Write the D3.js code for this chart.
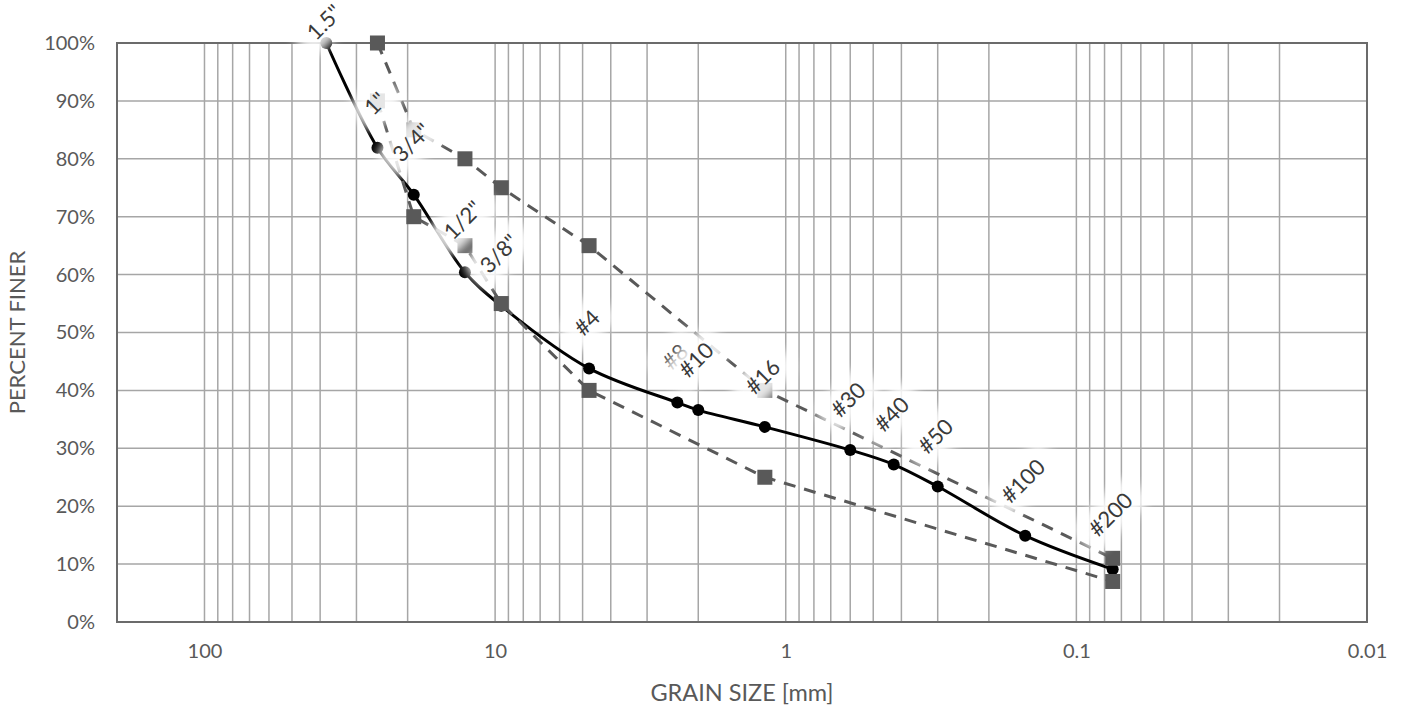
<!DOCTYPE html>
<html>
<head>
<meta charset="utf-8">
<script src="https://cdn.jsdelivr.net/npm/d3@7"></script>
<style>
  body { margin: 0; background: #fff; }
  text { font-family: Lato, "Open Sans", sans-serif; }
</style>
</head>
<body>
<svg id="chart"></svg>
<script>
// sieve analysis data
var sieveNames = ['1.5"', '1"', '3/4"', '1/2"', '3/8"', "#4", "#8", "#10", "#16", "#30", "#40", "#50", "#100", "#200"];
var sieveSizes = [38.1, 25.4, 19.05, 12.7, 9.525, 4.75, 2.36, 2.0, 1.18, 0.6, 0.425, 0.3, 0.15, 0.075];
var percentFiner = [100, 81.9, 73.8, 60.4, 54.6, 43.8, 37.9, 36.6, 33.7, 29.7, 27.2, 23.4, 14.9, 9.1];

// specification band
var specSizes = [25.4, 19.05, 12.7, 9.525, 4.75, 1.18, 0.075];
var upperSpec = [100, 85, 80, 75, 65, 40, 11];
var lowerSpec = [90, 70, 65, 55, 40, 25, 7];

var xTickValues = [100, 10, 1, 0.1, 0.01];
var yTickValues = [0, 10, 20, 30, 40, 50, 60, 70, 80, 90, 100];

var W = 1402, H = 707;
var margin = { left: 117, right: 35, top: 43, bottom: 85 };
var width = W - margin.left - margin.right,
  height = H - margin.top - margin.bottom;

var svg = d3.select("#chart").attr("width", W).attr("height", H);

var defs = svg.append("defs");
defs.append("filter")
  .attr("id", "soft")
  .attr("x", "-50%").attr("y", "-50%")
  .attr("width", "200%").attr("height", "200%")
  .append("feGaussianBlur").attr("stdDeviation", 5);

var x = d3.scaleLog().domain([200, 0.01]).range([0, width]);
var y = d3.scaleLinear().domain([0, 100]).range([height, 0]);

var g = svg.append("g").attr("transform", `translate(${margin.left},${margin.top})`);

// vertical grid (all 1-9 multiples of each decade)
var vGrid = x.ticks().filter((d) => x(d) > 0.5 && x(d) < width - 0.5);
g.append("g")
  .selectAll("line")
  .data(vGrid)
  .enter()
  .append("line")
  .attr("x1", (d) => x(d)).attr("x2", (d) => x(d))
  .attr("y1", 0).attr("y2", height)
  .style("stroke", "#a6a6a6")
  .style("stroke-width", 1.5);

// horizontal grid
g.append("g")
  .selectAll("line")
  .data(yTickValues.slice(1, -1))
  .enter()
  .append("line")
  .attr("x1", 0).attr("x2", width)
  .attr("y1", (d) => y(d)).attr("y2", (d) => y(d))
  .style("stroke", "#a6a6a6")
  .style("stroke-width", 1.5);

// plot border
g.append("rect")
  .attr("width", width).attr("height", height)
  .style("fill", "none")
  .style("stroke", "#6b6b6b")
  .style("stroke-width", 2);

// axes (labels only)
var xAxis = g.append("g")
  .attr("transform", `translate(0,${height})`)
  .call(d3.axisBottom(x).tickValues(xTickValues).tickFormat((d) => String(d)).tickSize(0).tickPadding(22));
var yAxis = g.append("g")
  .call(d3.axisLeft(y).tickValues(yTickValues).tickFormat((d) => d + "%").tickSize(0).tickPadding(22));
[xAxis, yAxis].forEach((a) => {
  a.select(".domain").remove();
  a.selectAll("text").style("font-size", "20px").style("fill", "#595959");
});

// axis titles
svg.append("text")
  .attr("x", margin.left + width / 2).attr("y", 701)
  .attr("text-anchor", "middle")
  .style("font-size", "23.5px").style("fill", "#595959")
  .text("GRAIN SIZE [mm]");
svg.append("text")
  .attr("transform", `translate(25,${margin.top + height / 2}) rotate(-90)`)
  .attr("text-anchor", "middle")
  .style("font-size", "22px").style("fill", "#595959")
  .text("PERCENT FINER");

// measured gradation
var gradation = sieveSizes.map((s, i) => ({ size: s, pct: percentFiner[i], name: sieveNames[i] }));
var smooth = d3.line()
  .x((d) => x(d.size)).y((d) => y(d.pct))
  .curve(d3.curveCatmullRom.alpha(0.5));
g.append("path")
  .datum(gradation)
  .attr("d", smooth)
  .style("fill", "none")
  .style("stroke", "#000")
  .style("stroke-width", 3);
g.selectAll(".pt")
  .data(gradation)
  .enter()
  .append("circle")
  .attr("class", "pt")
  .attr("cx", (d) => x(d.size)).attr("cy", (d) => y(d.pct))
  .attr("r", 6)
  .style("fill", "#000");

// spec limits (dashed with squares)
var straight = d3.line().x((d) => x(d.size)).y((d) => y(d.pct));
[upperSpec, lowerSpec].forEach((vals) => {
  var pts = specSizes.map((s, i) => ({ size: s, pct: vals[i] }));
  g.append("path")
    .datum(pts)
    .attr("d", straight)
    .style("fill", "none")
    .style("stroke", "#595959")
    .style("stroke-width", 3)
    .style("stroke-dasharray", "12,9");
  g.append("g")
    .selectAll("rect")
    .data(pts)
    .enter()
    .append("rect")
    .attr("x", (d) => x(d.size) - 7.5).attr("y", (d) => y(d.pct) - 7.5)
    .attr("width", 15).attr("height", 15)
    .style("fill", "#595959");
});

// sieve labels with soft white glow
var labels = g.append("g")
  .selectAll("g")
  .data(gradation)
  .enter()
  .append("g");
labels.each(function (d) {
  var lg = d3.select(this);
  var glow = lg.append("rect");
  var t = lg.append("text")
    .attr("text-anchor", "middle")
    .attr("dy", "0.35em")
    .style("font-size", "22px")
    .style("fill", "#3a3a3a")
    .text(d.name);
  var w = t.node().getComputedTextLength();
  var half = (w + 16) / 2.83;
  var cy = Math.max(y(d.pct) - (31 + half), -margin.top + 3 + half);
  var cx = x(d.size) - 2;
  glow.attr("x", -w / 2 - 14).attr("y", -19)
    .attr("width", w + 28).attr("height", 38)
    .attr("rx", 12)
    .style("fill", "#fff")
    .style("opacity", 0.85)
    .attr("filter", "url(#soft)");
  lg.attr("transform", `translate(${cx},${cy}) rotate(-45)`);
});
</script>
</body>
</html>
